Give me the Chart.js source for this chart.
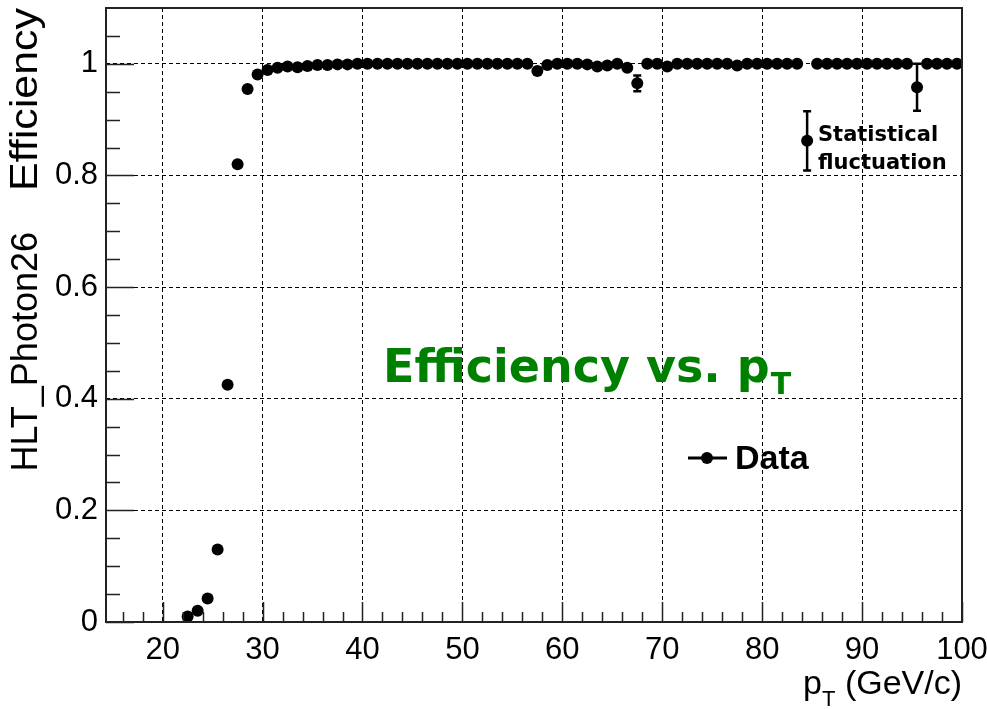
<!DOCTYPE html>
<html lang="en">
<head>
<meta charset="UTF-8">
<title>HLT_Photon26 Efficiency</title>
<script src="https://cdn.jsdelivr.net/npm/chart.js"></script>
<style>
    html, body { margin: 0; padding: 0; background: #fff; }
    #wrap { width: 987px; height: 709px; }
</style>
</head>
<body>
<div id="wrap"><canvas id="effChart" width="987" height="709"></canvas></div>
<script>
    // bin centres (GeV/c), efficiency and its statistical error
    const ptBins = [
        22.5, 23.5, 24.5, 25.5, 26.5, 27.5, 28.5, 29.5, 30.5, 31.5,
        32.5, 33.5, 34.5, 35.5, 36.5, 37.5, 38.5, 39.5, 40.5, 41.5,
        42.5, 43.5, 44.5, 45.5, 46.5, 47.5, 48.5, 49.5, 50.5, 51.5,
        52.5, 53.5, 54.5, 55.5, 56.5, 57.5, 58.5, 59.5, 60.5, 61.5,
        62.5, 63.5, 64.5, 65.5, 66.5, 67.5, 68.5, 69.5, 70.5, 71.5,
        72.5, 73.5, 74.5, 75.5, 76.5, 77.5, 78.5, 79.5, 80.5, 81.5,
        82.5, 83.5, 84.5, 85.5, 86.5, 87.5, 88.5, 89.5, 90.5, 91.5,
        92.5, 93.5, 94.5, 95.5, 96.5, 97.5, 98.5, 99.5
    ];
    const efficiency = [
        0.010, 0.020, 0.042, 0.130, 0.425, 0.820, 0.955, 0.981, 0.989, 0.993,
        0.995, 0.994, 0.996, 0.998, 0.998, 0.999, 0.999, 1.000, 1.000, 1.000,
        1.000, 1.000, 1.000, 1.000, 1.000, 1.000, 1.000, 1.000, 1.000, 1.000,
        1.000, 1.000, 1.000, 1.000, 1.000, 0.987, 0.998, 1.000, 1.000, 1.000,
        0.999, 0.995, 0.997, 1.000, 0.993, 0.965, 1.000, 1.000, 0.995, 1.000,
        1.000, 1.000, 1.000, 1.000, 1.000, 0.997, 1.000, 1.000, 1.000, 1.000,
        1.000, 1.000, 0.862, 1.000, 1.000, 1.000, 1.000, 1.000, 1.000, 1.000,
        1.000, 1.000, 1.000, 0.958, 1.000, 1.000, 1.000, 1.000
    ];
    const effError = [
        0, 0, 0, 0, 0, 0, 0, 0, 0, 0,
        0, 0, 0, 0, 0, 0, 0, 0, 0, 0,
        0, 0, 0, 0, 0, 0, 0, 0, 0, 0,
        0, 0, 0, 0, 0, 0.005, 0, 0, 0, 0,
        0, 0, 0, 0, 0, 0.014, 0, 0, 0, 0,
        0, 0, 0, 0, 0, 0, 0, 0, 0, 0,
        0, 0, 0.053, 0, 0, 0, 0, 0, 0, 0,
        0, 0, 0, 0.042, 0, 0, 0, 0
    ];
    const xTicks = [20, 30, 40, 50, 60, 70, 80, 90, 100];
    const yTicks = [0, 0.2, 0.4, 0.6, 0.8, 1];

    const points = ptBins.map((x, i) => ({ x: x, y: efficiency[i] }));

    // vertical error bars with small caps
    const errorBars = {
        id: 'errorBars',
        beforeDatasetsDraw(chart) {
            const ctx = chart.ctx;
            const xs = chart.scales.x, ys = chart.scales.y;
            ctx.save();
            ctx.strokeStyle = '#000';
            ctx.lineWidth = 2.5;
            ptBins.forEach((x, i) => {
                if (!effError[i]) return;
                const px = xs.getPixelForValue(x);
                const top = ys.getPixelForValue(efficiency[i] + effError[i]);
                const bot = ys.getPixelForValue(efficiency[i] - effError[i]);
                ctx.beginPath();
                ctx.moveTo(px, top); ctx.lineTo(px, bot);
                ctx.moveTo(px - 4, top); ctx.lineTo(px + 4, top);
                ctx.moveTo(px - 4, bot); ctx.lineTo(px + 4, bot);
                ctx.stroke();
            });
            ctx.restore();
        }
    };

    // ROOT style frame with ticks pointing inwards
    const frame = {
        id: 'frame',
        afterDatasetsDraw(chart) {
            const ctx = chart.ctx;
            const a = chart.chartArea;
            const xs = chart.scales.x, ys = chart.scales.y;
            ctx.save();
            ctx.strokeStyle = '#222';
            ctx.lineWidth = 1.5;
            ctx.beginPath();
            for (let v = 16; v <= 100; v += 2) {
                const px = Math.round(xs.getPixelForValue(v)) + 0.5;
                const len = v % 10 === 0 ? 20 : 10;
                ctx.moveTo(px, a.bottom); ctx.lineTo(px, a.bottom - len);
            }
            for (let k = 0; k <= 21; k++) {
                const v = k * 0.05;
                const py = Math.round(ys.getPixelForValue(v)) + 0.5;
                const len = k % 4 === 0 ? 28 : 14;
                ctx.moveTo(a.left, py); ctx.lineTo(a.left + len, py);
            }
            ctx.stroke();
            ctx.lineWidth = 2;
            ctx.strokeRect(a.left, a.top, a.right - a.left, a.bottom - a.top);
            ctx.restore();
        }
    };

    // titles, legend and the annotation
    const labels = {
        id: 'labels',
        afterDraw(chart) {
            const ctx = chart.ctx;
            const a = chart.chartArea;
            ctx.save();
            ctx.fillStyle = '#000';
            ctx.textBaseline = 'alphabetic';

            // y axis title
            ctx.save();
            ctx.translate(37, 8);
            ctx.rotate(-Math.PI / 2);
            ctx.scale(1.13, 1);
            ctx.font = '38px "Liberation Sans", Arial, sans-serif';
            ctx.textAlign = 'right';
            ctx.fillText('Efficiency', 0, 0);
            ctx.restore();
            ctx.save();
            ctx.translate(37, 232);
            ctx.rotate(-Math.PI / 2);
            ctx.font = '36px "Liberation Sans", Arial, sans-serif';
            ctx.textAlign = 'right';
            ctx.fillText('HLT_Photon26', 0, 0);
            ctx.restore();

            // x axis title: p_T (GeV/c)
            ctx.font = '34px "Liberation Sans", Arial, sans-serif';
            ctx.textAlign = 'right';
            const rest = ' (GeV/c)';
            const restW = ctx.measureText(rest).width;
            ctx.fillText(rest, a.right, 694);
            ctx.font = '22px "Liberation Sans", Arial, sans-serif';
            const tW = ctx.measureText('T').width;
            ctx.fillText('T', a.right - restW, 706);
            ctx.font = '34px "Liberation Sans", Arial, sans-serif';
            ctx.fillText('p', a.right - restW - tW, 694);

            // green title
            ctx.fillStyle = '#008000';
            ctx.textAlign = 'left';
            ctx.font = 'bold 46px "DejaVu Sans", Verdana, sans-serif';
            const main = 'Efficiency vs. p';
            ctx.fillText(main, 383, 382);
            const mW = ctx.measureText(main).width;
            ctx.font = 'bold 30px "DejaVu Sans", Verdana, sans-serif';
            ctx.fillText('T', 383 + mW + 1, 394);

            // annotation
            ctx.fillStyle = '#000';
            ctx.font = 'bold 21px "DejaVu Sans", Verdana, sans-serif';
            ctx.fillText('Statistical', 818, 141);
            ctx.fillText('fluctuation', 818, 169);

            // legend
            ctx.strokeStyle = '#000';
            ctx.lineWidth = 3;
            ctx.beginPath();
            ctx.moveTo(688, 458); ctx.lineTo(727, 458);
            ctx.stroke();
            ctx.beginPath();
            ctx.arc(707, 458, 6, 0, Math.PI * 2);
            ctx.fill();
            ctx.font = 'bold 34px "Liberation Sans", Arial, sans-serif';
            ctx.textBaseline = 'middle';
            ctx.fillText('Data', 735, 460);
            ctx.restore();
        }
    };

    const tickFont = { family: '"Liberation Sans", Arial, sans-serif', size: 31 };

    function noPad(s) {
        s.paddingLeft = 0; s.paddingRight = 0;
        s.paddingTop = 0; s.paddingBottom = 0;
    }

    new Chart(document.getElementById('effChart'), {
        type: 'scatter',
        data: {
            datasets: [{
                label: 'Data',
                data: points,
                backgroundColor: '#000',
                borderWidth: 0,
                pointRadius: 6,
                pointHoverRadius: 6,
                clip: 0
            }]
        },
        options: {
            responsive: false,
            animation: false,
            layout: { padding: { top: 8, right: 25, left: 0, bottom: 0 } },
            plugins: { legend: { display: false }, tooltip: { enabled: false } },
            scales: {
                x: {
                    type: 'linear',
                    min: 14.33,
                    max: 100,
                    afterBuildTicks: s => { s.ticks = xTicks.map(v => ({ value: v })); },
                    afterFit: s => { s.height = 87; noPad(s); },
                    ticks: { font: tickFont, color: '#000', padding: 10, maxRotation: 0, autoSkip: false },
                    grid: { color: '#000', lineWidth: 1, drawTicks: false },
                    border: { display: false, dash: [4, 3] }
                },
                y: {
                    min: 0,
                    max: 1.1,
                    afterBuildTicks: s => { s.ticks = yTicks.map(v => ({ value: v })); },
                    afterFit: s => { s.width = 106; noPad(s); },
                    ticks: { font: tickFont, color: '#000', padding: 8, autoSkip: false,
                             callback: v => String(v) },
                    grid: { color: '#000', lineWidth: 1, drawTicks: false },
                    border: { display: false, dash: [4, 3] }
                }
            }
        },
        plugins: [errorBars, frame, labels]
    });
</script>
</body>
</html>
